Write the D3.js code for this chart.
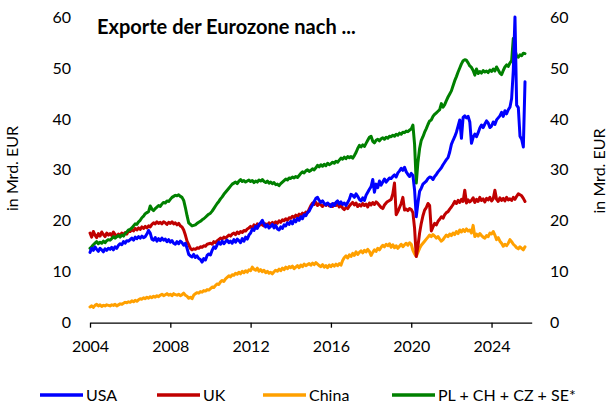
<!DOCTYPE html>
<html><head><meta charset="utf-8">
<script src="https://cdn.jsdelivr.net/npm/d3@7"></script>
<style>
body{margin:0;background:#fff}
svg{display:block}
text{font-family:Lato,'Open Sans',sans-serif;fill:#000}
</style>
</head><body>
<svg id="chart" width="612" height="417"></svg>
<script>
// Monthly data, Jan 2004 .. Sep 2025, in Mrd. EUR
const startYear = 2004;
const usa = [
13.8,14.6,14.2,14.9,14.4,14.0,14.6,14.3,13.9,14.5,14.2,14.6,
14.4,14.8,14.3,14.9,14.6,15.2,15.5,15.3,15.9,15.6,16.1,16.0,
16.3,16.6,16.2,16.8,16.5,16.9,16.6,17.0,16.7,16.9,17.4,18.1,
17.6,16.4,16.2,16.7,16.0,16.5,16.1,16.6,16.2,16.4,15.9,16.3,
15.8,16.1,15.6,15.4,15.9,15.5,16.0,15.7,15.2,15.6,14.6,13.4,
13.1,12.9,13.4,12.8,13.1,12.6,12.4,11.9,12.6,12.3,13.2,13.5,
13.3,14.2,14.9,14.6,15.3,15.8,15.4,16.0,15.5,15.9,16.2,15.7,
16.0,15.6,16.3,15.8,16.4,16.1,15.7,16.5,16.0,16.8,16.4,17.2,
17.6,18.4,18.1,18.9,18.5,19.3,19.6,20.1,19.4,18.8,19.2,18.6,
18.9,19.3,18.6,19.1,18.4,18.2,18.8,18.5,19.2,19.0,19.6,19.3,
19.9,19.4,20.2,19.8,20.5,20.1,20.8,20.4,21.2,21.0,21.6,21.9,
22.6,23.1,23.8,24.4,24.6,24.0,23.6,23.9,23.4,23.1,23.5,23.2,
22.8,23.4,23.0,23.6,23.9,23.3,23.7,23.2,23.5,23.0,23.6,24.2,
25.2,25.0,24.6,25.3,24.8,24.2,23.9,24.5,24.0,25.0,25.6,26.2,
26.7,28.1,25.6,27.2,26.5,27.8,27.0,27.6,28.2,27.6,28.0,28.4,
28.3,28.7,29.0,28.6,29.4,29.8,30.3,29.9,30.5,29.6,29.1,28.7,
29.3,28.9,26.0,20.8,23.5,25.8,26.4,27.2,27.5,27.8,28.3,28.6,
28.5,28.1,28.7,29.1,29.6,30.0,30.4,31.0,31.5,32.0,32.4,33.5,
35.0,35.8,36.5,37.4,38.6,39.8,36.2,40.3,40.6,40.2,40.5,39.4,
35.2,36.4,37.0,36.5,37.3,38.2,38.8,38.3,39.0,39.6,39.2,38.3,
38.6,39.4,38.9,39.8,40.2,40.6,41.3,40.5,41.6,41.0,41.8,42.3,
44.0,49.5,60.0,42.7,42.2,36.6,36.0,34.5,47.3
];
const uk = [
17.6,16.8,17.9,17.2,16.7,17.5,17.0,17.8,17.3,16.9,17.6,17.2,
17.5,17.1,17.8,17.3,16.9,17.4,17.0,17.6,17.2,17.7,17.4,18.0,
17.9,18.3,18.0,18.5,18.2,18.6,18.3,18.8,18.5,18.9,18.6,19.0,
18.8,19.3,19.6,19.4,19.8,19.5,19.7,19.4,19.8,19.6,19.3,19.7,
19.5,19.8,19.4,19.6,19.2,19.5,19.0,18.8,18.2,17.2,16.0,15.3,
14.6,14.3,14.5,14.4,14.7,14.6,14.9,14.8,15.1,15.0,15.4,15.5,
15.6,15.4,15.9,15.7,16.1,16.3,16.6,16.4,16.8,16.6,16.9,17.2,
17.0,17.4,17.6,17.3,17.8,17.5,17.9,17.7,18.1,18.0,18.4,18.6,
18.9,18.5,19.2,18.8,19.4,19.0,19.5,19.2,19.0,19.4,19.1,19.6,
19.3,19.7,19.4,19.8,19.5,20.0,19.7,20.2,20.0,20.4,20.1,20.6,
20.5,20.9,20.6,21.1,20.8,21.3,21.0,21.5,21.2,21.7,21.6,22.3,
23.0,23.5,23.2,23.6,23.0,23.4,23.1,22.8,23.3,23.0,23.4,22.9,
23.2,22.8,23.4,23.0,23.3,22.7,23.1,22.5,22.2,22.6,22.4,22.9,
23.3,23.6,23.1,23.5,22.8,23.2,22.9,23.4,23.0,23.3,22.7,23.5,
23.1,23.6,23.2,23.7,23.4,23.0,22.6,22.4,23.1,23.5,23.8,24.0,
24.2,25.3,27.4,21.2,21.8,22.6,23.4,24.6,22.1,22.3,22.0,22.4,
22.2,21.6,18.5,13.0,15.0,17.6,19.5,21.0,22.1,22.6,23.4,23.0,
18.0,18.8,19.5,19.2,19.9,20.3,20.8,20.5,21.2,21.6,21.8,22.3,
22.7,23.2,23.8,23.4,24.0,23.6,24.2,23.8,26.0,23.5,24.1,23.7,
24.0,24.5,23.6,24.2,23.8,24.6,24.0,24.3,23.7,24.4,24.1,24.6,
23.9,24.3,26.0,24.2,23.8,24.5,24.0,24.4,23.9,24.6,24.1,24.3,
24.0,24.6,24.2,24.8,25.3,25.1,24.9,24.4,23.8
];
const china = [
3.1,3.3,3.0,3.4,3.6,3.3,3.5,3.2,3.4,3.3,3.5,3.4,
3.3,3.5,3.4,3.6,3.3,3.5,3.7,3.6,3.8,4.0,3.9,4.1,
4.0,4.3,4.1,4.4,4.2,4.5,4.7,4.6,4.9,4.7,5.0,4.8,
5.1,4.9,5.2,5.0,5.3,5.1,5.4,5.6,5.3,5.5,5.7,5.4,
5.6,5.3,5.7,5.5,5.4,5.6,5.3,5.5,5.8,5.4,5.2,4.8,
5.0,4.7,5.4,5.7,5.9,5.8,6.1,6.0,6.3,6.2,6.5,6.4,
6.7,7.0,6.9,7.3,7.6,7.5,8.0,8.3,8.1,8.6,8.9,9.2,
9.0,9.4,9.3,9.7,9.5,9.9,9.6,10.1,9.8,10.2,9.9,10.4,
10.2,10.9,10.5,10.3,10.7,10.1,10.4,10.0,10.3,9.8,10.1,9.7,
9.9,9.6,10.0,10.3,10.1,10.5,10.2,10.7,10.4,10.9,10.6,11.0,
10.8,11.1,10.6,10.9,11.2,10.8,11.3,11.0,11.5,11.2,11.4,11.6,
11.3,11.7,11.4,11.8,11.5,11.2,11.0,11.4,10.9,11.2,10.8,11.3,
11.0,11.4,11.1,11.5,11.2,11.6,11.3,12.2,12.8,13.1,12.7,13.3,
13.0,13.6,13.2,13.9,13.4,13.8,14.1,13.7,14.2,13.9,14.4,14.0,
13.2,13.8,14.3,14.0,14.6,14.3,14.8,15.2,14.9,15.4,15.1,15.5,
14.8,15.3,14.7,15.1,14.6,15.0,15.4,14.9,15.3,15.6,15.2,15.7,
15.4,14.2,13.5,13.0,13.8,14.6,15.2,15.6,16.0,16.4,16.8,17.2,
16.9,17.3,17.0,16.6,16.9,16.4,16.0,16.3,16.8,17.2,16.9,17.4,
17.1,17.6,17.3,17.9,17.5,18.2,17.8,18.3,17.9,18.4,18.0,18.2,
17.6,19.1,16.9,17.4,17.0,17.5,17.1,16.8,16.6,17.1,16.9,17.6,
17.4,17.9,17.2,16.3,16.7,16.0,15.6,15.0,15.4,15.1,15.6,16.3,
15.9,15.4,15.1,14.7,14.5,14.9,14.6,14.3,14.9
];
const plChCzSe = [
14.6,14.9,15.3,15.6,15.9,15.5,15.8,15.6,16.0,15.7,16.1,16.3,
16.2,16.5,16.9,16.6,16.9,17.1,16.8,17.2,17.0,17.5,17.8,18.2,
18.3,18.6,19.0,19.4,19.3,19.8,20.1,20.6,20.9,21.4,21.6,21.8,
22.9,22.3,22.0,22.4,22.7,23.0,22.8,23.3,23.6,23.5,23.9,23.8,
24.2,24.6,24.8,25.0,24.9,25.1,24.8,24.6,24.0,22.6,21.0,19.6,
19.3,19.0,19.1,19.2,19.5,19.7,19.9,20.2,20.4,20.7,21.0,21.3,
21.5,21.9,22.4,22.9,23.4,23.8,24.3,24.7,25.2,25.6,26.0,26.4,
26.8,27.2,27.4,27.6,27.3,27.8,28.1,27.7,27.9,27.6,27.8,28.0,
27.7,27.9,27.5,27.8,27.6,28.0,27.8,28.1,27.7,27.5,27.8,27.4,
27.6,27.3,27.5,27.1,27.2,26.9,27.3,27.6,27.9,28.2,28.0,28.4,
28.3,28.6,28.4,28.7,28.5,28.9,29.3,29.6,29.4,29.8,30.0,29.7,
29.9,30.2,30.0,30.4,30.9,30.6,31.0,30.7,31.1,30.8,31.3,31.0,
31.2,31.5,31.3,31.7,31.5,31.9,32.3,32.1,32.5,32.2,32.6,32.4,
32.6,32.3,32.8,33.4,34.2,34.8,34.5,34.9,34.6,35.2,35.8,36.4,
36.6,35.6,35.3,35.8,36.0,35.7,36.1,36.3,36.0,36.4,36.2,36.6,
36.5,36.8,36.6,37.0,36.8,37.2,37.0,37.4,37.3,37.6,37.5,37.8,
38.0,38.8,35.0,27.4,31.5,34.2,35.8,36.5,37.4,38.1,38.9,39.6,
39.8,40.5,40.9,41.2,41.5,41.8,43.0,42.3,42.8,43.6,44.3,44.9,
45.5,46.5,47.5,48.3,49.2,50.0,50.8,51.4,51.6,51.5,51.0,50.4,
50.1,49.5,48.6,49.8,48.9,49.3,49.0,49.5,49.2,49.4,49.1,49.6,
49.3,49.8,49.4,50.2,49.6,49.0,48.7,49.5,50.2,50.6,50.3,51.0,
51.4,55.8,53.5,52.3,52.1,52.6,52.4,52.9,52.8
];
const seriesNames = ["USA", "UK", "China", "PL + CH + CZ + SE*"];
const xTickYears = [2004, 2008, 2012, 2016, 2020, 2024];
const yTickValues = [0, 10, 20, 30, 40, 50, 60];
const titleText = "Exporte der Eurozone nach ...";
const axisTitle = "in Mrd. EUR";

const colors = ["#0000FF", "#C00000", "#FFA000", "#008000"];
const seriesData = [usa, uk, china, plChCzSe];

const svg = d3.select("#chart");
const x = d3.scaleLinear().domain([2004, 2026]).range([90, 531.7]);
const y = d3.scaleLinear().domain([0, 60]).range([322.7, 17]);

// x axis
const xAxis = svg.append("g").attr("transform", "translate(0,322.7)")
  .call(d3.axisBottom(x).tickValues(xTickYears).tickFormat(d3.format("d"))
    .tickSize(5).tickSizeOuter(0).tickPadding(13));
xAxis.select(".domain").attr("stroke", "#000").attr("stroke-width", 1.3);
xAxis.selectAll(".tick line").attr("stroke", "#000").attr("stroke-width", 1.3);
xAxis.selectAll("text").attr("font-size", 16).attr("font-family", "Lato");

// y axes (labels only)
const yl = svg.append("g").attr("transform", "translate(78,0)")
  .call(d3.axisLeft(y).tickValues(yTickValues).tickSize(0).tickPadding(7));
const yr = svg.append("g").attr("transform", "translate(543,0)")
  .call(d3.axisRight(y).tickValues(yTickValues).tickSize(0).tickPadding(7));
[yl, yr].forEach(g => {
  g.select(".domain").remove();
  g.selectAll("text").attr("font-size", 16).attr("font-family", "Lato");
});

// axis titles
svg.append("text").attr("transform", "translate(17.5,168.5) rotate(-90)")
  .attr("text-anchor", "middle").attr("font-size", 16).text(axisTitle);
svg.append("text").attr("transform", "translate(605,171) rotate(-90)")
  .attr("text-anchor", "middle").attr("font-size", 16).text(axisTitle);

// title
svg.append("text").attr("x", 97).attr("y", 34).attr("font-size", 20)
  .attr("font-weight", "bold").text(titleText);

// lines
const line = d3.line().x((d, i) => x(startYear + i / 12)).y(d => y(d));
const order = [2, 1, 3, 0];
order.forEach(k => {
  svg.append("path").datum(seriesData[k]).attr("d", line)
    .attr("fill", "none").attr("stroke", colors[k]).attr("stroke-width", 3)
    .attr("stroke-linejoin", "round").attr("stroke-linecap", "round");
});

// legend
const legendX = [40, 157, 263, 392];
const lg = svg.append("g");
seriesNames.forEach((name, k) => {
  lg.append("line").attr("x1", legendX[k]).attr("x2", legendX[k] + 43)
    .attr("y1", 395).attr("y2", 395).attr("stroke", colors[k]).attr("stroke-width", 3.5);
  lg.append("text").attr("x", legendX[k] + 46).attr("y", 395).attr("dy", "0.35em")
    .attr("font-size", 16).text(name);
});
</script>
</body></html>
